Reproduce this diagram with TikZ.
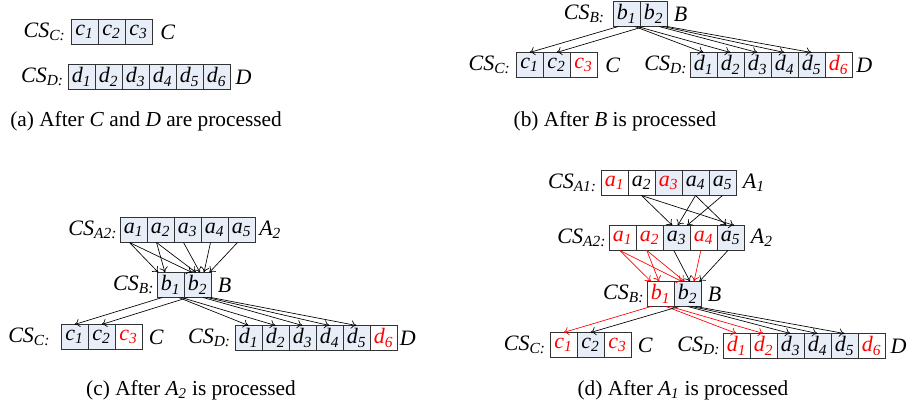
\documentclass[tikz,border=0pt]{standalone}
\usepackage{fontspec}
\setmainfont{Liberation Serif}
\usepackage{tikz}
\usetikzlibrary{arrows.meta,positioning}
\definecolor{cCell}{HTML}{E8EEF8}
\definecolor{cEdge}{HTML}{333333}
\definecolor{cNew}{HTML}{FF0000}
\newcommand{\el}[2]{\textit{#1\textsubscript{#2}}}
\newcommand{\cs}[1]{\textit{CS\textsubscript{#1:}}}
\tikzset{
  cell/.style ={draw=cEdge, fill=cCell, line width=0.6pt, minimum width=20.25pt,
                minimum height=18.75pt, inner sep=0pt, outer sep=0pt, font=\fontsize{16.5}{16.5}\selectfont},
  cellw/.style={cell, fill=white},
  chg/.style  ={cell, fill=white, text=cNew},
  chgf/.style ={cell, text=cNew},
  lbl/.style  ={inner sep=1pt, font=\fontsize{16.5}{16.5}\selectfont},
  captext/.style={inner sep=0pt, font=\fontsize{16}{16}\selectfont},
  link/.style ={-{To[length=1.4mm,width=2.2mm]}, line width=0.5pt, draw=black},
  linkr/.style={link, draw=cNew},
}

\begin{document}
\begin{tikzpicture}[x=0.75pt, y=-0.75pt]
    \useasboundingbox (0,0) rectangle (910,410);
    % (a) after C and D
    \foreach \i in {1,2,3} \node[cell] (pa-c-\i) at ({57.5+27*\i},32) {\el{c}{\i}};
    \foreach \i in {1,...,6} \node[cell] (pa-d-\i) at ({54.5+27*\i},77) {\el{d}{\i}};
    \node[lbl, left=3pt of pa-c-1] (pa-csc) {\cs{C}};
    \node[lbl, right=5pt of pa-c-3] (pa-C) {\textit{C}};
    \node[lbl, left=2pt of pa-d-1] (pa-csd) {\cs{D}};
    \node[lbl, right=3pt of pa-d-6] (pa-D) {\textit{D}};
    \node[captext] (pa-cap) at (146,121) {(a) After \textit{C} and \textit{D} are processed};

    % (b) after B
    \foreach \i in {1,2} \node[cell] (pb-b-\i) at ({599.5+27*\i},14) {\el{b}{\i}};
    \foreach \i/\s in {1/cell,2/cell,3/chg} \node[\s] (pb-c-\i) at ({502.5+27*\i},65) {\el{c}{\i}};
    \foreach \i/\s in {1/cell,2/cell,3/cell,4/cell,5/cell,6/chg}
      \node[\s] (pb-d-\i) at ({676.5+27*\i},65) {\el{d}{\i}};
    \node[lbl, left=5pt of pb-b-1] (pb-csb) {\cs{B}};
    \node[lbl, right=4pt of pb-b-2] (pb-B) {\textit{B}};
    \node[lbl, left=3pt of pb-c-1] (pb-csc) {\cs{C}};
    \node[lbl, right=5pt of pb-c-3] (pb-C) {\textit{C}};
    \node[lbl, left=1pt of pb-d-1] (pb-csd) {\cs{D}};
    \node[lbl, right=2pt of pb-d-6] (pb-D) {\textit{D}};
    \node[captext] (pb-cap) at (615,121) {(b) After \textit{B} is processed};

    % (c) after A2
    \foreach \i in {1,...,5} \node[cell] (pc-a2-\i) at ({106.5+27*\i},230) {\el{a}{\i}};
    \foreach \i in {1,2} \node[cell] (pc-b-\i) at ({143.5+27*\i},285) {\el{b}{\i}};
    \foreach \i/\s in {1/cell,2/cell,3/chg} \node[\s] (pc-c-\i) at ({47.5+27*\i},337) {\el{c}{\i}};
    \foreach \i/\s in {1/cell,2/cell,3/cell,4/cell,5/cell,6/chg}
      \node[\s] (pc-d-\i) at ({221.5+27*\i},338) {\el{d}{\i}};
    \node[lbl, left=1pt of pc-a2-1] (pc-csa) {\cs{A2}};
    \node[lbl, right=2pt of pc-a2-5] (pc-A) {\el{A}{2}};
    \node[lbl, left=1pt of pc-b-1] (pc-csb) {\cs{B}};
    \node[lbl, right=4pt of pc-b-2] (pc-B) {\textit{B}};
    \node[lbl, left=7pt of pc-c-1] (pc-csc) {\cs{C}};
    \node[lbl, right=4pt of pc-c-3] (pc-C) {\textit{C}};
    \node[lbl, left=2pt of pc-d-1] (pc-csd) {\cs{D}};
    \node[lbl, right=1pt of pc-d-6] (pc-D) {\textit{D}};
    \node[captext] (pc-cap) at (191,390) {(c) After \el{A}{2} is processed};

    % (d) after A1
    \foreach \i/\s in {1/chg,2/cellw,3/chgf,4/cell,5/cell}
      \node[\s] (pd-a1-\i) at ({587.5+27*\i},183) {\el{a}{\i}};
    \foreach \i/\s in {1/chg,2/chg,3/cell,4/chg,5/cell}
      \node[\s] (pd-a2-\i) at ({595.5+27*\i},238) {\el{a}{\i}};
    \foreach \i/\s in {1/chg,2/cell} \node[\s] (pd-b-\i) at ({633.5+27*\i},294) {\el{b}{\i}};
    \foreach \i/\s in {1/chg,2/cell,3/chg} \node[\s] (pd-c-\i) at ({536.5+27*\i},345) {\el{c}{\i}};
    \foreach \i/\s in {1/chg,2/chg,3/cell,4/cell,5/cell,6/chg}
      \node[\s] (pd-d-\i) at ({709.5+27*\i},346) {\el{d}{\i}};
    \node[lbl, left=2pt of pd-a1-1] (pd-csa1) {\cs{A1}};
    \node[lbl, right=4pt of pd-a1-5] (pd-A1) {\el{A}{1}};
    \node[lbl, left=1pt of pd-a2-1] (pd-csa2) {\cs{A2}};
    \node[lbl, right=4pt of pd-a2-5] (pd-A2) {\el{A}{2}};
    \node[lbl, left=1pt of pd-b-1] (pd-csb) {\cs{B}};
    \node[lbl, right=4pt of pd-b-2] (pd-B) {\textit{B}};
    \node[lbl, left=2pt of pd-c-1] (pd-csc) {\cs{C}};
    \node[lbl, right=4pt of pd-c-3] (pd-C) {\textit{C}};
    \node[lbl, left=1pt of pd-d-1] (pd-csd) {\cs{D}};
    \node[lbl, right=3pt of pd-d-6] (pd-D) {\textit{D}};
    \node[captext] (pd-cap) at (683,390) {(d) After \el{A}{1} is processed};

    % links B -> C, D
    \foreach \p in {pb,pc} {
      \draw[link] ([xshift=4]\p-b-1.south west) -- (\p-c-1.north);
      \draw[link] ([xshift=-4]\p-b-1.south east) -- (\p-d-1.north);
      \draw[link] ([xshift=-2]\p-b-1.south east) -- (\p-d-2.north);
      \draw[link] ([xshift=3]\p-b-2.south west) -- (\p-c-2.north);
      \foreach \j/\k in {3/-6,4/-3,5/0} \draw[link] ([xshift=\k]\p-b-2.south east) -- (\p-d-\j.north);
    }
    \draw[linkr] ([xshift=3]pd-b-1.south west) -- (pd-c-1.north);
    \draw[linkr] ([xshift=-6]pd-b-1.south east) -- (pd-d-1.north);
    \draw[linkr] ([xshift=-3]pd-b-1.south east) -- (pd-d-2.north);
    \draw[link] ([xshift=4]pd-b-2.south west) -- (pd-c-2.north);
    \foreach \j/\k in {3/-10,4/-7,5/-4} \draw[link] ([xshift=\k]pd-b-2.south east) -- (pd-d-\j.north);

    % links A2 -> B
    \foreach \s/\t/\k in {1/1/1,2/1/6,1/2/6,2/2/9,3/2/12,4/2/15,5/2/19}
      \draw[link] ([xshift=-3]pc-a2-\s.south) -- ([xshift=\k]pc-b-\t.north west);
    \foreach \s/\t/\k/\c in {1/1/3/linkr,2/1/9/linkr,1/2/6/linkr,2/2/8/linkr,3/2/12/link,4/2/15/linkr,5/2/19/link}
      \draw[\c] ([xshift=-2]pd-a2-\s.south) -- ([xshift=\k]pd-b-\t.north west);

    % links A1 -> A2
    \foreach \s/\t/\k in {2/3/7,2/5/13,4/3/11,4/5/7,5/3/18}
      \draw[link] (pd-a1-\s.south) -- ([xshift=\k]pd-a2-\t.north west);
\end{tikzpicture}
\end{document}
